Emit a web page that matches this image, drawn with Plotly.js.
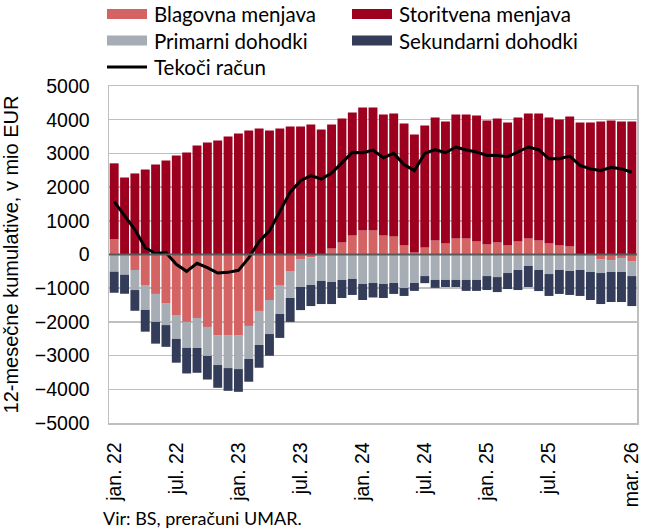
<!DOCTYPE html>
<html>
<head>
<meta charset="utf-8">
<script src="https://cdn.plot.ly/plotly-3.0.1.min.js"></script>
<style>
  html, body { margin: 0; padding: 0; background: #fff; }
  #chart { width: 650px; height: 532px; }
</style>
</head>
<body>
<div id="chart"></div>
<script>
// mesečne kategorije (12-mesečne kumulative)
const months = [
  'jan. 22','feb. 22','mar. 22','apr. 22','maj 22','jun. 22','jul. 22','avg. 22','sep. 22','okt. 22','nov. 22','dec. 22',
  'jan. 23','feb. 23','mar. 23','apr. 23','maj 23','jun. 23','jul. 23','avg. 23','sep. 23','okt. 23','nov. 23','dec. 23',
  'jan. 24','feb. 24','mar. 24','apr. 24','maj 24','jun. 24','jul. 24','avg. 24','sep. 24','okt. 24','nov. 24','dec. 24',
  'jan. 25','feb. 25','mar. 25','apr. 25','maj 25','jun. 25','jul. 25','avg. 25','sep. 25','okt. 25','nov. 25','dec. 25',
  'jan. 26','feb. 26','mar. 26'
];

const blagovna = [
  450, 0, -460, -905, -1170, -1440, -1795, -2000, -1885, -2150, -2390, -2390,
  -2390, -2120, -1675, -1350, -905, -490, -135, -85, 0, 180, 355, 565,
  710, 710, 565, 535, 265, 60, 210, 415, 325, 475, 475, 385,
  295, 355, 265, 385, 475, 415, 325, 265, 235, 0, 0, -135,
  -165, -105, -195
];

const storitvena = [
  2255, 2285, 2405, 2520, 2670, 2790, 2935, 3025, 3235, 3325, 3385, 3500,
  3590, 3680, 3740, 3680, 3740, 3800, 3800, 3860, 3710, 3680, 3680, 3650,
  3650, 3650, 3590, 3650, 3620, 3500, 3620, 3650, 3620, 3680, 3680, 3740,
  3680, 3680, 3650, 3680, 3710, 3770, 3740, 3740, 3860, 3915, 3915, 3945,
  3975, 3945, 3945
];

const primarni = [
  -510, -600, -595, -740, -830, -655, -710, -770, -890, -860, -890, -980,
  -1010, -980, -1010, -1010, -860, -800, -830, -820, -785, -815, -755, -725,
  -875, -845, -875, -845, -995, -845, -640, -755, -755, -755, -755, -755,
  -640, -670, -550, -460, -340, -460, -580, -460, -490, -460, -520, -415,
  -355, -415, -445
];

const sekundarni = [
  -625, -565, -615, -645, -645, -645, -705, -760, -735, -700, -675, -675,
  -675, -675, -675, -645, -710, -710, -685, -625, -685, -655, -535, -475,
  -475, -430, -415, -325, -235, -235, -210, -235, -210, -210, -325, -325,
  -415, -445, -475, -595, -625, -625, -650, -710, -710, -770, -830, -920,
  -890, -890, -890
];

const tekociRacun = [
  1570, 1150, 740, 200, 30, 60, -290, -500, -260, -390, -550, -530,
  -470, -100, 390, 700, 1280, 1850, 2190, 2340, 2240, 2420, 2720, 3030,
  3020, 3100, 2870, 3000, 2670, 2490, 3000, 3110, 3020, 3190, 3100, 3040,
  2940, 2940, 2900, 3040, 3190, 3110, 2840, 2840, 2920, 2640, 2540, 2490,
  2590, 2540, 2440
];

const tickMonths = ['jan. 22','jul. 22','jan. 23','jul. 23','jan. 24','jul. 24','jan. 25','jul. 25','mar. 26'];

const colors = {
  blagovna: '#d46464',
  storitvena: '#9c001e',
  primarni: '#a6adb4',
  sekundarni: '#333c58'
};

const W = 650, H = 532;
const M = { l: 109, r: 13, t: 86, b: 109 };
const pw = W - M.l - M.r, ph = H - M.t - M.b;
// pretvorba pikslov v paper koordinate (za legendo in vir)
const px = x => (x - M.l) / pw;
const py = y => (H - M.b - y) / ph;

const barTrace = (name, y, color) => ({
  type: 'bar', name: name, x: months, y: y,
  marker: { color: color, line: { width: 0 } },
  showlegend: false, hoverinfo: 'skip'
});

const data = [
  barTrace('Blagovna menjava', blagovna, colors.blagovna),
  barTrace('Storitvena menjava', storitvena, colors.storitvena),
  barTrace('Primarni dohodki', primarni, colors.primarni),
  barTrace('Sekundarni dohodki', sekundarni, colors.sekundarni),
  {
    type: 'scatter', mode: 'lines', name: 'Tekoči račun',
    x: months, y: tekociRacun,
    line: { color: '#000', width: 3 },
    showlegend: false, hoverinfo: 'skip'
  }
];

// legenda narisana ročno (pravokotni vzorci kot v izvirniku)
const legendItems = [
  { label: 'Blagovna menjava', color: colors.blagovna, sx: 107, tx: 152, y: 14, kind: 'box' },
  { label: 'Storitvena menjava', color: colors.storitvena, sx: 352, tx: 397, y: 14, kind: 'box' },
  { label: 'Primarni dohodki', color: colors.primarni, sx: 107, tx: 152, y: 40.5, kind: 'box' },
  { label: 'Sekundarni dohodki', color: colors.sekundarni, sx: 352, tx: 397, y: 40.5, kind: 'box' },
  { label: 'Tekoči račun', color: '#000', sx: 107, tx: 152, y: 67, kind: 'line' }
];

const shapes = [
  {
    type: 'line', xref: 'paper', yref: 'y', x0: 0, x1: 1, y0: 0, y1: 0,
    line: { color: '#595959', width: 2.2 }, layer: 'above'
  }
];
const annotations = [];

legendItems.forEach(it => {
  if (it.kind === 'box') {
    shapes.push({
      type: 'rect', xref: 'paper', yref: 'paper',
      x0: px(it.sx), x1: px(it.sx + 40), y0: py(it.y + 5), y1: py(it.y - 5),
      fillcolor: it.color, line: { width: 0 }
    });
  } else {
    shapes.push({
      type: 'line', xref: 'paper', yref: 'paper',
      x0: px(it.sx), x1: px(it.sx + 40), y0: py(it.y), y1: py(it.y),
      line: { color: it.color, width: 3 }
    });
  }
  annotations.push({
    text: it.label, xref: 'paper', yref: 'paper',
    x: px(it.tx), y: py(it.y), xanchor: 'left', yanchor: 'middle',
    showarrow: false, font: { family: 'Lato, sans-serif', size: 20.5, color: '#000' }
  });
});

annotations.push({
  text: 'Vir: BS, preračuni UMAR.', xref: 'paper', yref: 'paper',
  x: px(101), y: py(518), xanchor: 'left', yanchor: 'middle',
  showarrow: false, font: { family: 'Lato, sans-serif', size: 18, color: '#000' }
});

const axisFont = { family: 'Liberation Sans, Arial, sans-serif', size: 19.5, color: '#000' };

const layout = {
  width: W, height: H,
  margin: M,
  barmode: 'relative',
  bargap: 0.14,
  paper_bgcolor: '#fff',
  plot_bgcolor: '#fff',
  showlegend: false,
  xaxis: {
    type: 'category',
    tickvals: tickMonths,
    ticktext: tickMonths,
    tickangle: -90,
    tickfont: axisFont,
    ticks: '',
    ticklabelstandoff: 10,
    showgrid: false,
    zeroline: false,
    showline: true, mirror: true,
    linecolor: '#bfbfbf', linewidth: 1.5
  },
  yaxis: {
    range: [-5000, 5000],
    dtick: 1000,
    tickfont: axisFont,
    ticks: '',
    ticklabelstandoff: 14,
    showgrid: true, gridcolor: '#bfbfbf', gridwidth: 1.5,
    zeroline: false,
    showline: true, mirror: true,
    linecolor: '#bfbfbf', linewidth: 1.5,
    title: {
      text: '12-mesečne kumulative, v mio EUR',
      font: { family: 'Liberation Sans, Arial, sans-serif', size: 20, color: '#000' },
      standoff: 12
    }
  },
  shapes: shapes,
  annotations: annotations
};

Plotly.newPlot('chart', data, layout, { displayModeBar: false, staticPlot: true });
</script>
</body>
</html>
